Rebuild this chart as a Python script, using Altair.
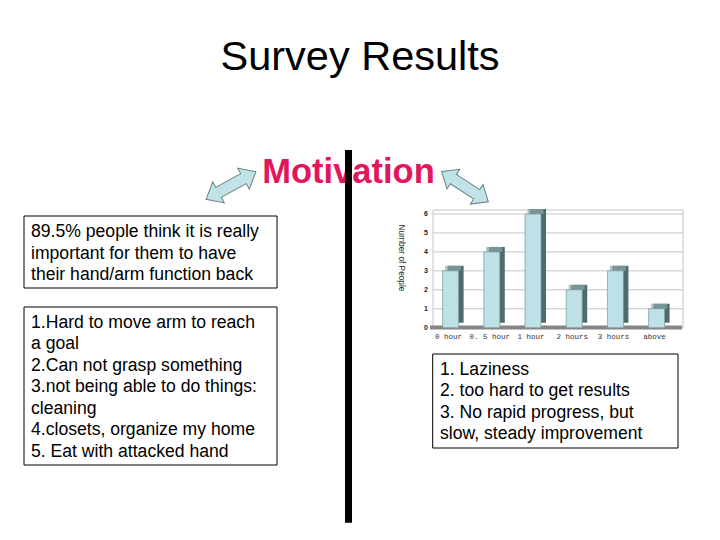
import altair as alt
import pandas as pd

# ---------------- data ----------------
title_text = "Survey Results"
heading_text = "Motivation"
box1_lines = ["89.5% people think it is really",
              "important for them to have",
              "their hand/arm function back"]
box2_lines = ["1.Hard to move arm to reach",
              "a goal",
              "2.Can not grasp something",
              "3.not being able to do things:",
              "cleaning",
              "4.closets, organize my home",
              "5. Eat with attacked hand"]
box3_lines = ["1. Laziness",
              "2. too hard to get results",
              "3. No rapid progress, but",
              "slow, steady improvement"]
hours = ["0 hour", "0. 5 hour", "1 hour", "2 hours", "3 hours", "above"]
people = [3, 4, 6, 2, 3, 1]
y_ticks = [0, 1, 2, 3, 4, 5, 6]
grid_vals = [1, 2, 3, 4, 5, 6]
y_title = "Number of People"

FONT = "Liberation Sans"
bars_df = pd.DataFrame({"hour": hours, "people": people})
ticks_df = pd.DataFrame({"v": y_ticks})
grid_df = pd.DataFrame({"v": grid_vals})
one = pd.DataFrame({"a": [0]})

# scales placing the small bar chart inside the slide (offset by 8px page margin)
xs = alt.Scale(domain=hours, range=[422, 669.2], paddingInner=0, paddingOuter=0)
ys = alt.Scale(domain=[0, 6], range=[319.7, 206], nice=False, zero=True)

layers = []

# chart frame
layers.append(alt.Chart(one).mark_rect(fill="white", stroke="#c4c4c4", strokeWidth=1).encode(
    x=alt.value(425), x2=alt.value(675), y=alt.value(202), y2=alt.value(320)))

# gridlines
layers.append(alt.Chart(grid_df).mark_rule(color="#c4c4c4", strokeWidth=1).encode(
    y=alt.Y("v:Q", scale=ys, axis=None), x=alt.value(425), x2=alt.value(675)))

# floor
layers.append(alt.Chart(one).mark_rect(fill="#858585").encode(
    x=alt.value(422), x2=alt.value(674), y=alt.value(317.5), y2=alt.value(321.5)))

# bar side faces (3D depth)
layers.append(alt.Chart(bars_df).mark_bar(size=16, color="#4f6a6c", xOffset=5, x2Offset=5,
                                          yOffset=-5, y2Offset=-5).encode(
    x=alt.X("hour:N", scale=xs, axis=None, sort=hours),
    y=alt.Y("people:Q", scale=ys, axis=None)))

# bar top faces
layers.append(alt.Chart(bars_df).mark_tick(size=16, thickness=5, color="#8ca7a8",
                                           xOffset=2.5, yOffset=-2.5).encode(
    x=alt.X("hour:N", scale=xs, axis=None, sort=hours),
    y=alt.Y("people:Q", scale=ys, axis=None)))

# bar front faces
layers.append(alt.Chart(bars_df).mark_bar(size=16, fill="#bde1e6", stroke="#7a9a9c",
                                          strokeWidth=0.7).encode(
    x=alt.X("hour:N", scale=xs, axis=None, sort=hours),
    y=alt.Y("people:Q", scale=ys, axis=None)))

# y tick labels
layers.append(alt.Chart(ticks_df).mark_text(font=FONT, fontSize=7, fontWeight="bold",
                                            align="right", baseline="middle", color="#222").encode(
    y=alt.Y("v:Q", scale=ys, axis=None), x=alt.value(420), text="v:Q"))

# x category labels
layers.append(alt.Chart(bars_df).mark_text(font="Liberation Mono", fontSize=7.5,
                                           baseline="middle", color="#333", dx=-2).encode(
    x=alt.X("hour:N", scale=xs, axis=None, sort=hours), y=alt.value(329), text="hour:N"))

# y title
layers.append(alt.Chart(pd.DataFrame({"t": [y_title]})).mark_text(
    font=FONT, fontSize=8.3, angle=90, baseline="middle", color="#222").encode(
    x=alt.value(392.7), y=alt.value(250), text="t:N"))

# text boxes
def box(x1, x2, y1, y2):
    return alt.Chart(one).mark_rect(fill="white", stroke="black", strokeWidth=1).encode(
        x=alt.value(x1), x2=alt.value(x2), y=alt.value(y1), y2=alt.value(y2))

def block(lines, x, y, lh):
    return alt.Chart(pd.DataFrame({"t": ["\n".join(lines)]})).mark_text(
        font=FONT, fontSize=17.6, align="left", baseline="alphabetic", lineBreak="\n",
        lineHeight=lh, color="black").encode(x=alt.value(x), y=alt.value(y), text="t:N")

layers += [box(16, 269, 208, 280), block(box1_lines, 23, 229, 21.5)]
layers += [box(16, 269, 299, 457), block(box2_lines, 23, 319.7, 21.5)]
layers += [box(424.7, 670, 346, 440), block(box3_lines, 432, 367, 21.3)]

# title
layers.append(alt.Chart(pd.DataFrame({"t": [title_text]})).mark_text(
    font=FONT, fontSize=41.5, align="center", baseline="alphabetic", color="black").encode(
    x=alt.value(352), y=alt.value(61.5), text="t:N"))

# heading
layers.append(alt.Chart(pd.DataFrame({"t": [heading_text]})).mark_text(
    font=FONT, fontSize=34.5, fontWeight="bold", align="center", baseline="alphabetic",
    color="#e2165e").encode(x=alt.value(340.5), y=alt.value(174.5), text="t:N"))

# vertical divider
layers.append(alt.Chart(one).mark_rect(fill="black").encode(
    x=alt.value(337), x2=alt.value(344), y=alt.value(142), y2=alt.value(514.7)))

# double arrows
ARROW = ("M-1,0L-0.5,-0.42L-0.5,-0.2L0.5,-0.2L0.5,-0.42L1,0L0.5,0.42L0.5,0.2"
         "L-0.5,0.2L-0.5,0.42Z")
layers.append(alt.Chart(one).mark_point(shape=ARROW, size=3250, angle=331, filled=True,
                                        fill="#bfe3e6", stroke="#6a7f80", strokeWidth=1,
                                        opacity=1).encode(
    x=alt.value(223), y=alt.value(177.5)))
layers.append(alt.Chart(one).mark_point(shape=ARROW, size=3100, angle=33, filled=True,
                                        fill="#bfe3e6", stroke="#6a7f80", strokeWidth=1,
                                        opacity=1).encode(
    x=alt.value(457), y=alt.value(178.7)))

chart = alt.layer(*layers).properties(
    width=704, height=524, padding=0, autosize=alt.AutoSizeParams(type="none"),
    background="white"
).configure_view(stroke=None)

chart.save("out.html", embed_options={"renderer": "svg", "actions": False})
